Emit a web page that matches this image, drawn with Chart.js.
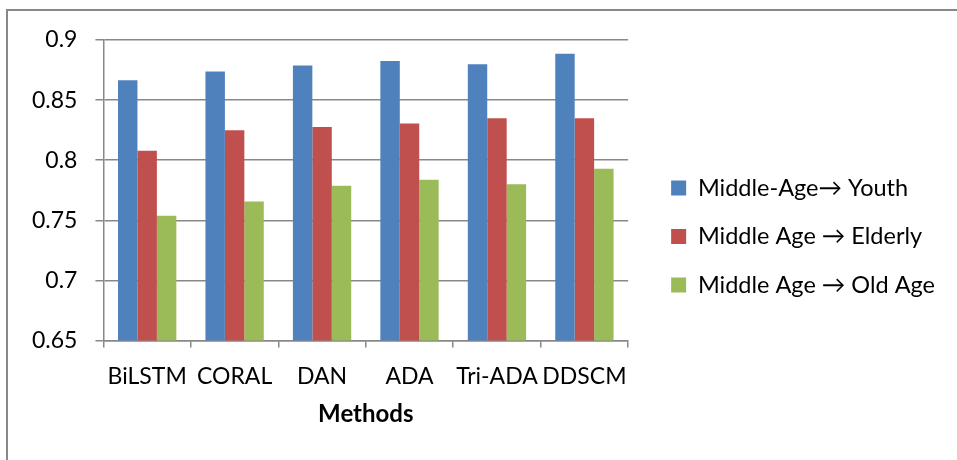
<!DOCTYPE html>
<html>
<head>
<meta charset="utf-8">
<script src="https://cdn.jsdelivr.net/npm/chart.js@4"></script>
<style>
  body { margin: 0; background: #fff; }
  #wrap { position: relative; width: 957px; height: 460px; }
  #frame { position: absolute; left: 6px; top: 9px; right: 0; bottom: 0;
           border-left: 2px solid #888; border-top: 2px solid #888; }
  canvas { position: absolute; left: 0; top: 0; }
</style>
</head>
<body>
<div id="wrap">
  <div id="frame"></div>
  <canvas id="grafico" width="957" height="460"></canvas>
</div>
<script>
// metodos e resultados
const metodos = ['BiLSTM', 'CORAL', 'DAN', 'ADA', 'Tri-ADA', 'DDSCM'];
const series = ['Middle-Age\u2192 Youth', 'Middle Age \u2192 Elderly', 'Middle Age \u2192 Old Age'];
const jovem = [0.8665, 0.8737, 0.8787, 0.8826, 0.8798, 0.8886];
const idoso = [0.8078, 0.825, 0.8277, 0.8305, 0.835, 0.835];
const velho = [0.7538, 0.7657, 0.7787, 0.7837, 0.7801, 0.7929];
const ticksY = [0.65, 0.7, 0.75, 0.8, 0.85, 0.9];

const cores = ['#4f81bd', '#c0504d', '#9bbb59'];
const fonte = 'Lato, "Open Sans", sans-serif';

const ctx = document.getElementById('grafico').getContext('2d');
const chart = new Chart(ctx, {
  type: 'bar',
  data: {
    labels: metodos,
    datasets: [jovem, idoso, velho].map((d, i) => ({
      label: series[i],
      data: d,
      backgroundColor: cores[i],
      borderWidth: 0,
      barPercentage: 1,
      categoryPercentage: 0.667
    }))
  },
  options: {
    responsive: false,
    animation: false,
    layout: { padding: { left: 14, top: 40, right: 12, bottom: 27 } },
    plugins: {
      tooltip: { enabled: false },
      legend: {
        position: 'right',
        maxWidth: 340,
        labels: {
          color: '#000',
          font: { family: fonte, size: 23.5 },
          boxWidth: 15,
          boxHeight: 15,
          padding: 25
        }
      }
    },
    scales: {
      x: {
        grid: { drawOnChartArea: false, drawTicks: true, tickLength: 7, color: '#888', lineWidth: 1.5 },
        border: { color: '#888', width: 1.5 },
        ticks: { color: '#000', font: { family: fonte, size: 23 }, padding: 15, maxRotation: 0, autoSkip: false },
        title: { display: true, text: 'Methods', color: '#000', font: { family: fonte, size: 24, weight: 'bold' }, padding: { top: -5, bottom: 4 } }
      },
      y: {
        min: 0.65,
        max: 0.9,
        afterBuildTicks: s => { s.ticks = ticksY.map(v => ({ value: v })); },
        grid: { color: '#888', lineWidth: 1.5, tickLength: 8 },
        border: { color: '#888', width: 1.5 },
        ticks: { color: '#000', font: { family: fonte, size: 23 }, padding: 18,
                 callback: v => String(+v.toFixed(2)) }
      },
      // eixo vazio so para afastar a legenda da area do grafico
      folga: {
        position: 'right',
        min: 0, max: 1,
        grid: { display: false },
        border: { display: false },
        ticks: { display: false },
        afterFit: s => { s.width = 18; }
      }
    }
  }
});
console.log(JSON.stringify(chart.chartArea), chart.legend.left, chart.legend.width);
</script>
</body>
</html>
